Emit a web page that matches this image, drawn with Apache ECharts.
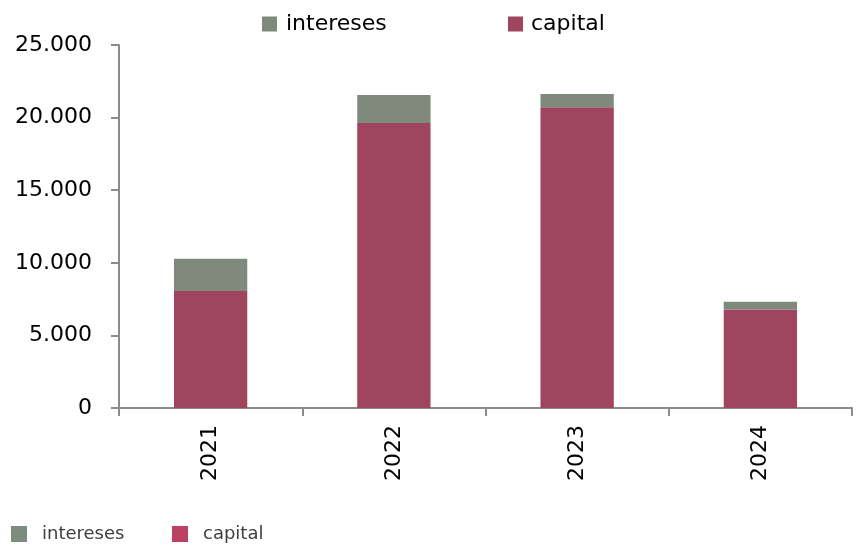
<!DOCTYPE html>
<html>
<head>
<meta charset="utf-8">
<script src="https://cdn.jsdelivr.net/npm/echarts@6/dist/echarts.min.js"></script>
<style>
html,body{margin:0;padding:0;background:#fff;}
#chart{width:857px;height:546px;}
</style>
</head>
<body>
<div id="chart"></div>
<script>
var categories = ['2021', '2022', '2023', '2024'];
var capital = [8050, 19630, 20710, 6790];
var intereses = [2230, 1930, 915, 530];
var yTicks = { min: 0, max: 25000, interval: 5000 };

var colInt = '#7f8a7c';
var colCap = '#a0455f';
var axisCol = '#8c8c8c';

function fmt(v) {
  return String(v).replace(/\B(?=(\d{3})+(?!\d))/g, '.');
}

var chart = echarts.init(document.getElementById('chart'));
chart.setOption({
  animation: false,
  backgroundColor: '#ffffff',
  grid: { left: 119, right: 5, top: 45, bottom: 138, containLabel: false },
  legend: [
    {
      data: ['intereses'], left: 262, top: 13, padding: 0, icon: 'rect', itemWidth: 15, itemHeight: 15,
      selectedMode: false,
      textStyle: { fontFamily: 'DejaVu Sans', fontSize: 22, color: '#000', padding: [0, 0, 0, 4] }
    },
    {
      data: ['capital'], left: 508, top: 13, padding: 0, icon: 'rect', itemWidth: 15, itemHeight: 15,
      selectedMode: false,
      textStyle: { fontFamily: 'DejaVu Sans', fontSize: 22, color: '#000', padding: [0, 0, 0, 3] }
    },
    {
      data: [{ name: 'intereses', itemStyle: { color: '#7d8c7e' } }], left: 11, top: 525, padding: 0, icon: 'rect',
      itemWidth: 16, itemHeight: 16, selectedMode: false,
      textStyle: { fontFamily: 'DejaVu Sans', fontSize: 18, color: '#404040', padding: [0, 0, 0, 10] }
    },
    {
      data: [{ name: 'capital', itemStyle: { color: '#bb4262' } }], left: 172, top: 525, padding: 0, icon: 'rect',
      itemWidth: 16, itemHeight: 16, selectedMode: false,
      textStyle: { fontFamily: 'DejaVu Sans', fontSize: 18, color: '#404040', padding: [0, 0, 0, 10] }
    }
  ],
  xAxis: {
    type: 'category',
    data: categories,
    axisLine: { show: true, lineStyle: { color: axisCol, width: 2 } },
    axisTick: { show: true, length: 8, inside: false, alignWithLabel: false, lineStyle: { color: axisCol, width: 2 } },
    axisLabel: { rotate: 90, margin: 17, fontFamily: 'DejaVu Sans', fontSize: 22, color: '#000' },
    splitLine: { show: false }
  },
  yAxis: {
    type: 'value',
    min: yTicks.min, max: yTicks.max, interval: yTicks.interval,
    axisLine: { show: true, lineStyle: { color: axisCol, width: 2 } },
    axisTick: { show: true, length: 8, lineStyle: { color: axisCol, width: 2 } },
    axisLabel: { margin: 27, fontFamily: 'DejaVu Sans', fontSize: 22, color: '#000', formatter: fmt },
    splitLine: { show: false }
  },
  series: [
    {
      name: 'capital', type: 'bar', stack: 'total', data: capital, barWidth: '40%',
      itemStyle: { color: colCap }
    },
    {
      name: 'intereses', type: 'bar', stack: 'total', data: intereses, barWidth: '40%',
      itemStyle: { color: colInt }
    }
  ]
});
</script>
</body>
</html>
